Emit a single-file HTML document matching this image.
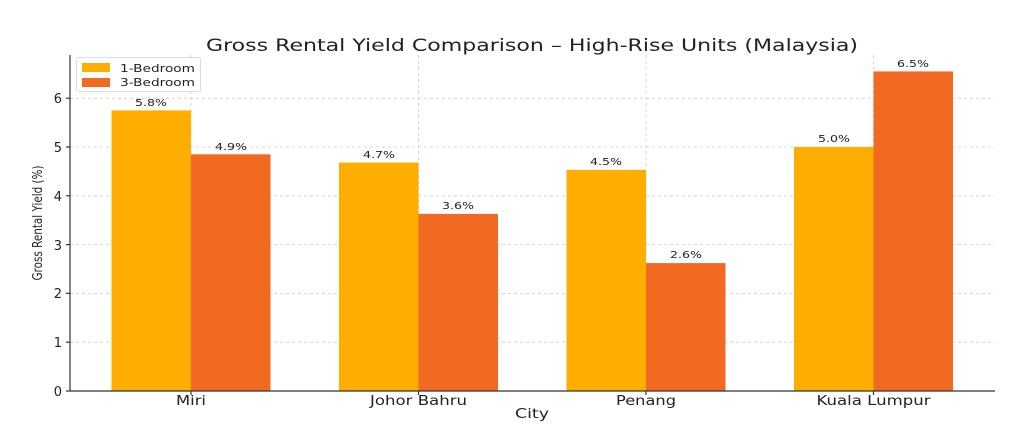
<!DOCTYPE html><html><head><style>body{margin:0;background:#fff}svg{display:block}text{font-family:"DejaVu Sans","Liberation Sans",sans-serif;fill:#222}</style></head><body>
<svg width="1024" height="430" viewBox="0 0 1024 430">
<text x="532" y="51" font-size="17" text-anchor="middle" textLength="652" lengthAdjust="spacingAndGlyphs">Gross Rental Yield Comparison – High-Rise Units (Malaysia)</text>
<g stroke="#ccc" stroke-dasharray="3,3" stroke-width="0.8">
<line x1="70" x2="995" y1="342.2" y2="342.2"/><line x1="70" x2="995" y1="293.4" y2="293.4"/><line x1="70" x2="995" y1="244.6" y2="244.6"/><line x1="70" x2="995" y1="195.8" y2="195.8"/><line x1="70" x2="995" y1="147" y2="147"/><line x1="70" x2="995" y1="98.2" y2="98.2"/>
<line x1="191" x2="191" y1="55" y2="391"/><line x1="418.5" x2="418.5" y1="55" y2="391"/><line x1="646" x2="646" y1="55" y2="391"/><line x1="873.5" x2="873.5" y1="55" y2="391"/>
</g>
<g fill="#FFAE00">
<rect x="111.5" y="110.4" width="79.5" height="280.6"/><rect x="339" y="162.6" width="79.5" height="228.4"/><rect x="566.5" y="169.9" width="79.5" height="221.1"/><rect x="794" y="147" width="79.5" height="244"/>
</g>
<g fill="#F26A22">
<rect x="191" y="154.3" width="79.5" height="236.7"/><rect x="418.5" y="213.9" width="79.5" height="177.1"/><rect x="646" y="263.1" width="79.5" height="127.9"/><rect x="873.5" y="71.4" width="79.5" height="319.6"/>
</g>
<g font-size="10" text-anchor="middle">
<text x="151" y="106" textLength="32" lengthAdjust="spacingAndGlyphs">5.8%</text><text x="231" y="150" textLength="32" lengthAdjust="spacingAndGlyphs">4.9%</text><text x="379" y="158" textLength="32" lengthAdjust="spacingAndGlyphs">4.7%</text><text x="458" y="209" textLength="32" lengthAdjust="spacingAndGlyphs">3.6%</text><text x="606" y="165" textLength="32" lengthAdjust="spacingAndGlyphs">4.5%</text><text x="686" y="258" textLength="32" lengthAdjust="spacingAndGlyphs">2.6%</text><text x="834" y="142" textLength="32" lengthAdjust="spacingAndGlyphs">5.0%</text><text x="913" y="67" textLength="32" lengthAdjust="spacingAndGlyphs">6.5%</text>
</g>
<g stroke="#333" stroke-width="1.2"><line x1="70" x2="70" y1="55" y2="391"/><line x1="70" x2="995" y1="391" y2="391"/>
<line x1="66" x2="70" y1="391" y2="391"/><line x1="66" x2="70" y1="342.2" y2="342.2"/><line x1="66" x2="70" y1="293.4" y2="293.4"/><line x1="66" x2="70" y1="244.6" y2="244.6"/><line x1="66" x2="70" y1="195.8" y2="195.8"/><line x1="66" x2="70" y1="147" y2="147"/><line x1="66" x2="70" y1="98.2" y2="98.2"/>
<line x1="191" x2="191" y1="391" y2="395"/><line x1="418.5" x2="418.5" y1="391" y2="395"/><line x1="646" x2="646" y1="391" y2="395"/><line x1="873.5" x2="873.5" y1="391" y2="395"/></g>
<g font-size="13" text-anchor="end">
<text x="62" y="396">0</text><text x="62" y="347">1</text><text x="62" y="298">2</text><text x="62" y="250">3</text><text x="62" y="201">4</text><text x="62" y="152">5</text><text x="62" y="103">6</text>
</g>
<g font-size="13" text-anchor="middle">
<text x="191" y="405" textLength="30" lengthAdjust="spacingAndGlyphs">Miri</text><text x="418.5" y="405" textLength="97" lengthAdjust="spacingAndGlyphs">Johor Bahru</text><text x="646" y="405" textLength="60" lengthAdjust="spacingAndGlyphs">Penang</text><text x="873.5" y="405" textLength="114" lengthAdjust="spacingAndGlyphs">Kuala Lumpur</text>
<text x="532" y="418" textLength="34" lengthAdjust="spacingAndGlyphs">City</text>
</g>
<text transform="translate(42 223) rotate(-90) scale(0.8 1)" font-size="13" text-anchor="middle">Gross Rental Yield (%)</text>
<rect x="76.5" y="57.5" width="124" height="34" fill="#fff" fill-opacity="0.85" stroke="#ddd" rx="2"/>
<rect x="82" y="63" width="28" height="9" fill="#FFAE00"/><rect x="82" y="78" width="28" height="9" fill="#F26A22"/>
<text x="120" y="72" font-size="11" textLength="75" lengthAdjust="spacingAndGlyphs">1-Bedroom</text><text x="120" y="86" font-size="11" textLength="75" lengthAdjust="spacingAndGlyphs">3-Bedroom</text>
</svg></body></html>
